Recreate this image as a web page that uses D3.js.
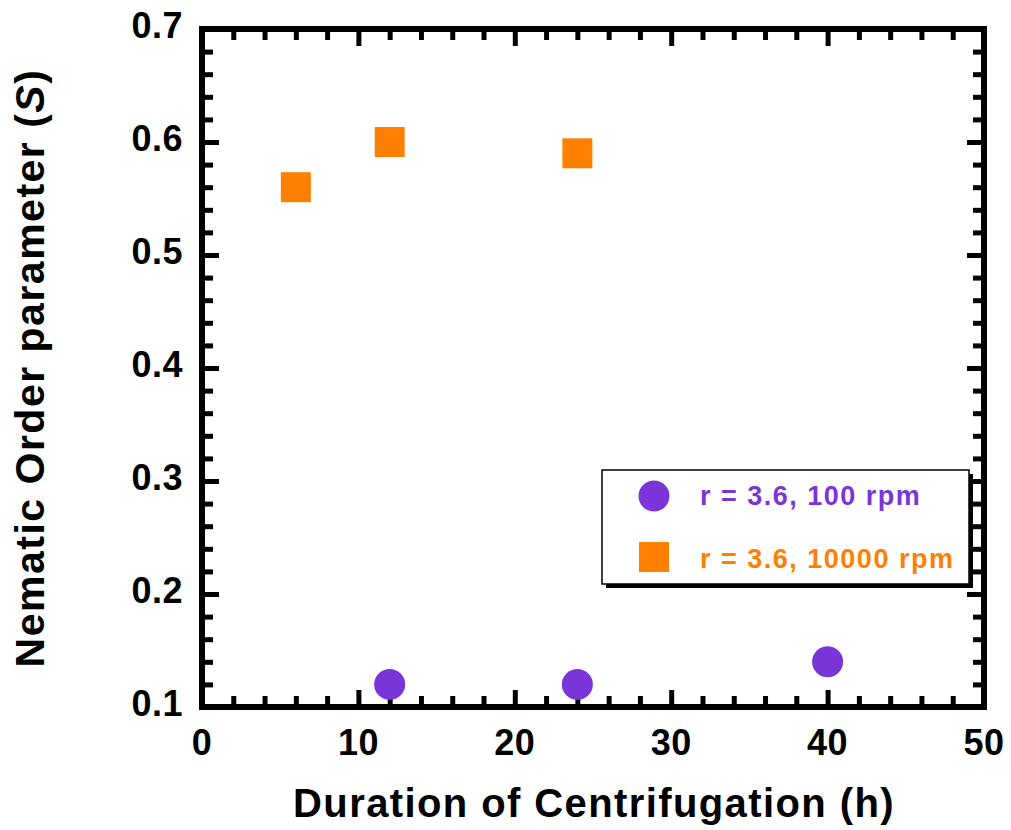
<!DOCTYPE html>
<html>
<head>
<meta charset="utf-8">
<script src="https://cdn.jsdelivr.net/npm/d3@7"></script>
<style>
  html, body { margin: 0; padding: 0; background: #fff; }
  svg { display: block; }
  text { font-family: "Liberation Sans", Arial, Helvetica, sans-serif; font-weight: bold; }
</style>
</head>
<body>
<svg id="chart" width="1011" height="830"></svg>
<script>
// Series: duration of centrifugation (h) vs nematic order parameter S
const lowSpeedHours = [12, 24, 40];
const lowSpeedS = [0.12, 0.12, 0.14];
const highSpeedHours = [6, 12, 24];
const highSpeedS = [0.56, 0.60, 0.59];

const seriesNames = ["r = 3.6, 100 rpm", "r = 3.6, 10000 rpm"];
const seriesColors = ["#7a35d8", "#ff7f00"];

const xTickValues = [0, 10, 20, 30, 40, 50];
const yTickValues = [0.1, 0.2, 0.3, 0.4, 0.5, 0.6, 0.7];

const xTitle = "Duration of Centrifugation (h)";

const svg = d3.select("#chart");
const plot = { left: 202, right: 984, top: 29, bottom: 707 };

const x = d3.scaleLinear().domain([0, 50]).range([plot.left, plot.right]);
const y = d3.scaleLinear().domain([0.1, 0.7]).range([plot.bottom, plot.top]);

const frameW = 6;
const majorLen = 17, minorLen = 11;

// Minor tick positions
const xMinor = d3.range(0, 50.001, 2).filter(v => Math.abs(v % 10) > 1e-6);
const yMinor = d3.range(0.1, 0.7001, 0.02).filter(v => Math.abs(Math.round(v * 10) - v * 10) > 1e-6);

// Inward ticks on all four sides, drawn with d3 axes
function styleAxis(g) {
  g.select(".domain").remove();
  g.selectAll(".tick line").attr("stroke", "#000").attr("stroke-width", 5);
  g.selectAll(".tick text").remove();
}

const axes = [
  [d3.axisBottom(x), `translate(0,${plot.bottom})`, xTickValues, xMinor],
  [d3.axisTop(x), `translate(0,${plot.top})`, xTickValues, xMinor],
  [d3.axisLeft(y), `translate(${plot.left},0)`, yTickValues, yMinor],
  [d3.axisRight(y), `translate(${plot.right},0)`, yTickValues, yMinor]
];
axes.forEach(([axis, tr, major, minor]) => {
  svg.append("g").attr("transform", tr)
    .call(axis.tickValues(major).tickSizeInner(-majorLen).tickSizeOuter(0))
    .call(styleAxis);
  svg.append("g").attr("transform", tr)
    .call(axis.tickValues(minor).tickSizeInner(-minorLen).tickSizeOuter(0))
    .call(styleAxis);
});

// Frame
svg.append("rect")
  .attr("x", plot.left).attr("y", plot.top)
  .attr("width", plot.right - plot.left).attr("height", plot.bottom - plot.top)
  .attr("fill", "none").attr("stroke", "#000").attr("stroke-width", frameW);

// Tick labels
svg.append("g").selectAll("text").data(xTickValues).join("text")
  .attr("x", d => x(d)).attr("y", plot.bottom + 48)
  .attr("text-anchor", "middle")
  .attr("font-size", 36).attr("letter-spacing", 0.5)
  .text(d => d3.format("d")(d));

svg.append("g").selectAll("text").data(yTickValues).join("text")
  .attr("x", plot.left - 19).attr("y", d => y(d) + 9)
  .attr("text-anchor", "end")
  .attr("font-size", 36).attr("letter-spacing", 0.5)
  .text(d => d3.format(".1f")(d));

// Axis titles
svg.append("text")
  .attr("x", 594).attr("y", 817)
  .attr("text-anchor", "middle")
  .attr("font-size", 40).attr("letter-spacing", 1.4)
  .text(xTitle);

const yTitle = svg.append("text")
  .attr("transform", "translate(44,368) rotate(-90)")
  .attr("text-anchor", "middle")
  .attr("font-size", 41).attr("letter-spacing", 1.5);
yTitle.append("tspan").text("Nematic Order parameter (");
yTitle.append("tspan").attr("font-style", "italic").text("S");
yTitle.append("tspan").text(")");

// Data marks
const sq = 30;
svg.append("g").selectAll("rect").data(d3.zip(highSpeedHours, highSpeedS)).join("rect")
  .attr("x", d => x(d[0]) - sq / 2).attr("y", d => y(d[1]) - sq / 2)
  .attr("width", sq).attr("height", sq)
  .attr("fill", seriesColors[1]);

svg.append("g").selectAll("circle").data(d3.zip(lowSpeedHours, lowSpeedS)).join("circle")
  .attr("cx", d => x(d[0])).attr("cy", d => y(d[1]))
  .attr("r", 15.5)
  .attr("fill", seriesColors[0]);

// Legend with drop shadow
const lg = svg.append("g");
const lgBox = { x: 602, y: 470, w: 367, h: 114 };
lg.append("rect")
  .attr("x", lgBox.x + 4).attr("y", lgBox.y + 4)
  .attr("width", lgBox.w).attr("height", lgBox.h)
  .attr("fill", "#000");
lg.append("rect")
  .attr("x", lgBox.x).attr("y", lgBox.y)
  .attr("width", lgBox.w).attr("height", lgBox.h)
  .attr("fill", "#fff").attr("stroke", "#000").attr("stroke-width", 1.5);

lg.append("circle").attr("cx", 654).attr("cy", 496).attr("r", 15.5).attr("fill", seriesColors[0]);
lg.append("rect").attr("x", 654 - sq / 2).attr("y", 557 - sq / 2)
  .attr("width", sq).attr("height", sq).attr("fill", seriesColors[1]);

lg.selectAll("text.item").data(seriesNames).join("text")
  .attr("class", "item")
  .attr("x", 700).attr("y", (d, i) => i === 0 ? 505 : 568)
  .attr("font-size", 27).attr("letter-spacing", 1.5)
  .attr("fill", (d, i) => seriesColors[i])
  .text(d => d);
</script>
</body>
</html>
